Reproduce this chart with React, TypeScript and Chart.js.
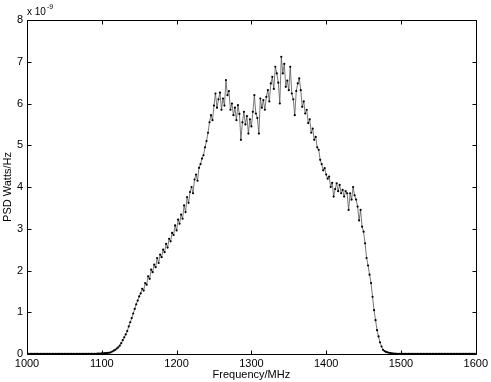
import { useEffect, useRef } from "react";
import { Chart, registerables } from "chart.js";

Chart.register(...registerables);

// Frequency grid (MHz): first sample and spacing
const freqStart = 1000;
const freqStep = 2;

// PSD values in units of 1e-9 Watts/Hz
// 1000 .. 1108 MHz
const psdLowTail = [
  0.001, 0.001, 0.001, 0.001, 0.001, 0.001, 0.001, 0.001, 0.001, 0.001,
  0.001, 0.001, 0.001, 0.001, 0.001, 0.001, 0.001, 0.001, 0.001, 0.001,
  0.001, 0.001, 0.001, 0.001, 0.001, 0.001, 0.001, 0.001, 0.001, 0.001,
  0.001, 0.001, 0.001, 0.001, 0.001, 0.001, 0.001, 0.001, 0.001, 0.001,
  0.002, 0.002, 0.003, 0.003, 0.004, 0.005, 0.006, 0.007, 0.009, 0.011,
  0.013, 0.016, 0.019, 0.022, 0.026,
];

// 1110 .. 1490 MHz
const psdBand = [
  0.03, 0.04, 0.06, 0.08, 0.10, 0.13, 0.16, 0.20, 0.26, 0.33,
  0.40, 0.47, 0.55, 0.66, 0.76, 0.86, 0.97, 1.08, 1.19, 1.28,
  1.38, 1.45, 1.56, 1.52, 1.70, 1.66, 1.86, 1.80, 2.02, 1.96,
  2.14, 2.08, 2.30, 2.18, 2.38, 2.32, 2.50, 2.44, 2.64, 2.55,
  2.76, 2.70, 2.90, 2.85, 3.08, 2.96, 3.22, 3.12, 3.34, 3.24,
  3.56, 3.40, 3.76, 3.62, 3.88, 4.00, 3.85, 4.18, 4.30, 4.15,
  4.46, 4.55, 4.68, 4.76, 4.95, 5.10, 5.30, 5.55, 5.72, 5.60,
  5.95, 6.24, 5.90, 6.10, 6.26, 5.85, 6.12, 5.95, 6.56, 6.20,
  6.30, 5.85, 6.00, 5.72, 5.90, 5.60, 5.96, 5.75, 5.13, 5.55,
  5.80, 5.50, 5.70, 5.28, 5.62, 5.45, 5.80, 6.20, 5.76, 5.65,
  5.28, 6.12, 5.90, 6.08, 5.85, 6.16, 6.32, 6.05, 6.48, 6.64,
  6.35, 6.88, 6.72, 6.50, 6.00, 7.12, 6.72, 6.95, 6.40, 6.55,
  6.32, 6.88, 6.24, 6.10, 5.72, 6.30, 6.48, 6.60, 6.32, 5.92,
  6.05, 5.76, 5.85, 5.53, 5.62, 5.30, 5.40, 5.13, 5.20, 4.95,
  4.89, 4.65, 4.55, 4.40, 4.45, 4.30, 4.20, 4.25, 4.00, 4.10,
  3.77, 3.95, 4.09, 3.90, 4.05, 3.85, 3.93, 3.77, 3.90, 3.85,
  3.45, 3.85, 3.70, 4.00, 3.80, 3.70, 3.53, 3.20, 3.45, 3.05,
  2.93, 2.65, 2.30, 2.12, 1.90, 1.70, 1.37, 1.05, 0.81, 0.57,
  0.42, 0.28, 0.18, 0.10, 0.07, 0.05, 0.04, 0.03, 0.02, 0.015,
  0.01,
];

// 1492 .. 1600 MHz
const psdHighTail = [
  0.008, 0.006, 0.005, 0.004, 0.003, 0.003, 0.002, 0.002, 0.002, 0.001,
  0.001, 0.001, 0.001, 0.001, 0.001, 0.001, 0.001, 0.001, 0.001, 0.001,
  0.001, 0.001, 0.001, 0.001, 0.001, 0.001, 0.001, 0.001, 0.001, 0.001,
  0.001, 0.001, 0.001, 0.001, 0.001, 0.001, 0.001, 0.001, 0.001, 0.001,
  0.001, 0.001, 0.001, 0.001, 0.001, 0.001, 0.001, 0.001, 0.001, 0.001,
  0.001, 0.001, 0.001, 0.001, 0.001,
];

const xTickValues = [1000, 1100, 1200, 1300, 1400, 1500, 1600];
const yTickValues = [0, 1, 2, 3, 4, 5, 6, 7, 8];

const xTitle = "Frequency/MHz";
const yTitle = "PSD Watts/Hz";
const exponentBase = "x 10";
const exponentPower = "-9";

const FONT = "'Liberation Sans', Arial, Helvetica, sans-serif";

const framePlugin = {
  id: "matlabFrame",
  afterDraw(chart: any) {
    const { ctx, chartArea: a, scales } = chart;
    const L = Math.round(a.left) + 0.5;
    const R = Math.round(a.right) + 0.5;
    const T = Math.round(a.top) + 0.5;
    const B = Math.round(a.bottom) + 0.5;
    ctx.save();
    ctx.strokeStyle = "#000";
    ctx.lineWidth = 1;
    ctx.beginPath();
    ctx.rect(L, T, R - L, B - T);
    ctx.stroke();
    const tl = 4;
    ctx.beginPath();
    xTickValues.forEach((v) => {
      const px = Math.round(scales.x.getPixelForValue(v)) + 0.5;
      ctx.moveTo(px, B);
      ctx.lineTo(px, B - tl);
      ctx.moveTo(px, T);
      ctx.lineTo(px, T + tl);
    });
    yTickValues.forEach((v) => {
      const py = Math.round(scales.y.getPixelForValue(v)) + 0.5;
      ctx.moveTo(L, py);
      ctx.lineTo(L + tl, py);
      ctx.moveTo(R, py);
      ctx.lineTo(R - tl, py);
    });
    ctx.stroke();
    ctx.fillStyle = "#000";
    ctx.textBaseline = "alphabetic";
    ctx.textAlign = "left";
    ctx.font = `10px ${FONT}`;
    ctx.fillText(exponentBase, a.left, a.top - 5);
    const w = ctx.measureText(exponentBase).width;
    ctx.font = `7px ${FONT}`;
    ctx.fillText(exponentPower, a.left + w + 1, a.top - 11);
    ctx.restore();
  },
};

export default function App() {
  const ref = useRef<HTMLCanvasElement | null>(null);

  useEffect(() => {
    const all = [...psdLowTail, ...psdBand, ...psdHighTail];
    const points = all.map((y, i) => ({ x: freqStart + i * freqStep, y }));
    const chart = new Chart(ref.current as HTMLCanvasElement, {
      type: "line",
      data: {
        datasets: [
          {
            data: points,
            borderColor: "#555",
            borderWidth: 0.8,
            pointRadius: 1.1,
            pointBackgroundColor: "#000",
            pointBorderColor: "#000",
            pointBorderWidth: 0,
            tension: 0,
          },
        ],
      },
      options: {
        responsive: false,
        animation: false,
        layout: { padding: { top: 20, right: 14, left: 0, bottom: 0 } },
        plugins: { legend: { display: false }, tooltip: { enabled: false } },
        scales: {
          x: {
            type: "linear",
            min: 1000,
            max: 1600,
            afterFit: (s: any) => {
              s.height = 28;
            },
            afterBuildTicks: (s: any) => {
              s.ticks = xTickValues.map((v) => ({ value: v }));
            },
            grid: { display: false, drawTicks: false },
            border: { display: false },
            ticks: {
              padding: 3,
              color: "#000",
              font: { family: FONT, size: 11 },
              maxRotation: 0,
              callback: (v: any) => String(v),
            },
            title: {
              display: true,
              text: xTitle,
              color: "#000",
              font: { family: FONT, size: 11 },
              padding: { top: 0, bottom: 0 },
            },
          },
          y: {
            type: "linear",
            min: 0,
            max: 8,
            afterFit: (s: any) => {
              s.width = 27;
            },
            afterBuildTicks: (s: any) => {
              s.ticks = yTickValues.map((v) => ({ value: v }));
            },
            grid: { display: false, drawTicks: false },
            border: { display: false },
            ticks: {
              padding: 4,
              color: "#000",
              font: { family: FONT, size: 11 },
              callback: (v: any) => String(v),
            },
            title: {
              display: true,
              text: yTitle,
              color: "#000",
              font: { family: FONT, size: 11 },
              padding: { top: 1, bottom: 0 },
            },
          },
        },
      },
      plugins: [framePlugin],
    });
    return () => chart.destroy();
  }, []);

  return (
    <div style={{ position: "fixed", left: 0, top: 0, width: 491, height: 382, background: "#fff" }}>
      <canvas ref={ref} width={491} height={382} />
    </div>
  );
}
